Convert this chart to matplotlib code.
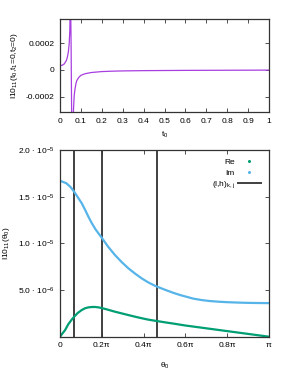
import numpy as np
import matplotlib
matplotlib.use('Agg')
import matplotlib.pyplot as plt
from matplotlib.lines import Line2D

plt.rcParams['font.family'] = ['Liberation Sans', 'DejaVu Sans']
plt.rcParams['font.size'] = 6
plt.rcParams['mathtext.fontset'] = 'custom'
plt.rcParams['mathtext.rm'] = 'Liberation Sans'
plt.rcParams['mathtext.default'] = 'regular'

# top panel: I10_11(t0, t1=0, t2=0)
t0 = [0, 0.01, 0.02, 0.03, 0.035, 0.04, 0.044, 0.047, 0.05, 0.053, 0.056, 0.058,
      0.062, 0.065, 0.068, 0.072, 0.076, 0.08, 0.09, 0.1, 0.12, 0.15, 0.2, 0.25,
      0.3, 0.4, 0.5, 0.6, 0.7, 0.8, 0.9, 1.0]
i_t0 = [3.2e-5, 3.5e-5, 4.5e-5, 7e-5, 9.5e-5, 1.35e-4, 2.0e-4, 3.0e-4, 6e-4, 2e-4,
        -4e-4, -6e-4, -4e-4, -2.8e-4, -1.9e-4, -1.4e-4, -1.05e-4, -8e-5, -5.5e-5,
        -4e-5, -2.8e-5, -1.9e-5, -1.2e-5, -9e-6, -7e-6, -5e-6, -4e-6, -3e-6,
        -2.5e-6, -2e-6, -1.5e-6, -1e-6]

# bottom panel, theta0 given in units of pi
th_im = [0, 0.03, 0.05, 0.068, 0.085, 0.104, 0.12, 0.135, 0.15, 0.17, 0.2, 0.23,
         0.263, 0.295, 0.327, 0.36, 0.391, 0.42, 0.455, 0.5, 0.54, 0.574, 0.61,
         0.638, 0.68, 0.718, 0.76, 0.8, 0.85, 0.893, 0.95, 1.0]
im_vals = [1.671e-5, 1.645e-5, 1.605e-5, 1.553e-5, 1.495e-5, 1.43e-5, 1.36e-5,
           1.29e-5, 1.225e-5, 1.15e-5, 1.06e-5, 9.65e-6, 8.75e-6, 8.0e-6, 7.33e-6,
           6.75e-6, 6.25e-6, 5.85e-6, 5.45e-6, 5.05e-6, 4.72e-6, 4.47e-6, 4.25e-6,
           4.08e-6, 3.92e-6, 3.82e-6, 3.75e-6, 3.7e-6, 3.66e-6, 3.63e-6, 3.61e-6,
           3.6e-6]
th_re = [0, 0.01, 0.024, 0.04, 0.055, 0.068, 0.085, 0.104, 0.12, 0.135, 0.15, 0.167,
         0.185, 0.2, 0.23, 0.263, 0.295, 0.327, 0.36, 0.391, 0.42, 0.455, 0.5, 0.55,
         0.6, 0.65, 0.7, 0.75, 0.8, 0.85, 0.9, 0.95, 1.0]
re_vals = [0, 3e-7, 7e-7, 1.35e-6, 1.8e-6, 2.15e-6, 2.55e-6, 2.86e-6, 3.05e-6,
           3.14e-6, 3.18e-6, 3.19e-6, 3.14e-6, 3.07e-6, 2.89e-6, 2.68e-6, 2.5e-6,
           2.32e-6, 2.14e-6, 1.98e-6, 1.84e-6, 1.71e-6, 1.55e-6, 1.38e-6, 1.2e-6,
           1.05e-6, 0.9e-6, 0.75e-6, 0.6e-6, 0.45e-6, 0.3e-6, 0.15e-6, 0]
lh_lines = [0.068, 0.2, 0.463]

fig = plt.figure(figsize=(2.99, 3.74), dpi=100)

ax1 = fig.add_axes([0.2007, 0.7005, 0.699, 0.2487])
ax1.plot(t0, i_t0, color='#a83ee0', lw=0.9)
ax1.set_xlim(0, 1)
ax1.set_ylim(-3.15e-4, 3.82e-4)
ax1.set_xticks(np.arange(0, 1.01, 0.1))
ax1.set_xticklabels(['0', '0.1', '0.2', '0.3', '0.4', '0.5', '0.6', '0.7', '0.8', '0.9', '1'])
ax1.set_yticks([-0.0002, 0, 0.0002])
ax1.set_yticklabels(['-0.0002', '0', '0.0002'])
ax1.set_xlabel('t$_0$', labelpad=4)
ax1.set_ylabel('I10$_{11}$(t$_0$,t$_1$=0,t$_2$=0)', labelpad=4)

ax2 = fig.add_axes([0.2007, 0.0997, 0.699, 0.499])
th_re_rad = np.array(th_re) * np.pi
th_im_rad = np.array(th_im) * np.pi
for v in lh_lines:
    ax2.axvline(v * np.pi, color='#404040', lw=1.4, zorder=1)
ax2.plot(th_re_rad, re_vals, color='#009e73', lw=1.6, zorder=2)
ax2.plot(th_im_rad, im_vals, color='#56b4e9', lw=1.6, zorder=2)
ax2.set_xlim(0, np.pi)
ax2.set_ylim(0, 2e-5)
ax2.set_xticks(np.array([0, 0.2, 0.4, 0.6, 0.8, 1.0]) * np.pi)
ax2.set_xticklabels(['0', '0.2π', '0.4π', '0.6π', '0.8π', 'π'])
ax2.set_yticks([5e-6, 1e-5, 1.5e-5, 2e-5])
ax2.set_yticklabels([r'5.0 $\cdot$ 10$^{-6}$', r'1.0 $\cdot$ 10$^{-5}$',
                     r'1.5 $\cdot$ 10$^{-5}$', r'2.0 $\cdot$ 10$^{-5}$'])
ax2.set_xlabel('θ$_0$', labelpad=8)
ax2.set_ylabel('I10$_{11}$(θ$_0$)', labelpad=4)

handles = [Line2D([], [], color='#009e73', marker='o', ms=1.2, ls='none'),
           Line2D([], [], color='#56b4e9', marker='o', ms=1.2, ls='none'),
           Line2D([], [], color='#404040', lw=1.4)]
ax2.legend(handles, ['Re', 'Im', '(l,h)$_{k,j}$'], loc='upper right',
           frameon=False, markerfirst=False, fontsize=6, handlelength=2.7,
           labelspacing=0.3, borderaxespad=0.6, handletextpad=0.4)

for ax in (ax1, ax2):
    ax.tick_params(direction='in', length=3, width=0.6, top=True, right=True,
                   labelsize=6, pad=4, colors='#333333', labelcolor='black')
    for s in ax.spines.values():
        s.set_linewidth(0.9)
        s.set_color('#333333')

fig.savefig('out.png', dpi=100)
